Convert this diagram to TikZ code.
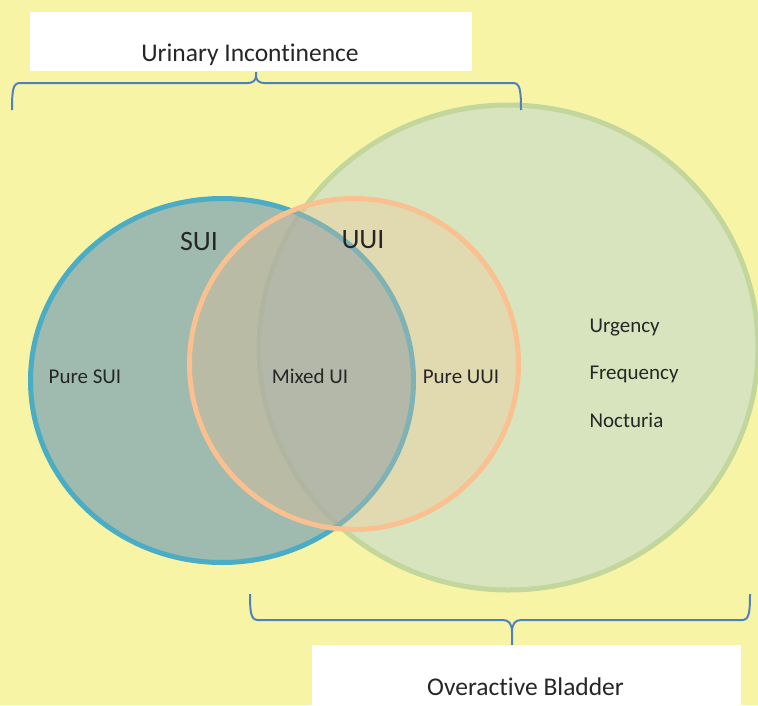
\documentclass[tikz,border=0pt]{standalone}
\usepackage{fontspec}
\setmainfont{Carlito}[Ligatures={NoCommon,NoRare,NoContextual},RawFeature={-clig}]
\usetikzlibrary{positioning,shapes.geometric}

\definecolor{bgyellow}{HTML}{F7F5A5}
\definecolor{oabfill}{HTML}{D7E4BD}
\definecolor{oabline}{HTML}{C3D69B}
\definecolor{suifill}{RGB}{123,162,179}
\definecolor{suiline}{HTML}{4BACC6}
\definecolor{uuiline}{HTML}{FAC090}
\definecolor{braceblue}{HTML}{4F81BD}
\definecolor{txtgray}{HTML}{262626}

\begin{document}
\begin{tikzpicture}[%
        x=1pt, y=-1pt,
        node distance=47.5pt,
        on grid,
        setcircle/.style={ellipse, draw, line width=5pt, inner sep=0pt},
        setbox/.style={rectangle, fill=white, inner sep=0pt},
        txt/.style={text=txtgray, font=\fontsize{21}{25}\selectfont, text height=14pt, text depth=5pt},
        setname/.style={text=txtgray, font=\fontsize{28}{33}\selectfont, text height=19pt, text depth=6pt},
        titletxt/.style={text=txtgray, font=\fontsize{25.5}{30}\selectfont, text height=17pt, text depth=6pt},
        brace/.style={draw=braceblue, line width=2pt, line join=round}
        ]

        \useasboundingbox (0,0) rectangle (758,705);
        \fill[bgyellow] (0,0) rectangle (758,705);

        % the three sets
        \node[setcircle, fill=oabfill, draw=oabline, minimum width=499pt, minimum height=485pt] (oab) at (508.5,347.5) {};
        \node[setcircle, fill=suifill, fill opacity=0.7, draw=suiline, minimum width=383pt, minimum height=364pt] (sui) at (222,380.5) {};
        \node[setcircle, fill=uuiline, fill opacity=0.3, draw=uuiline, minimum width=329pt, minimum height=331pt] (uui) at (354,364) {};

        \node[setname] (sui name) at (199,243.5) {SUI};
        \node[setname] (uui name) at (363,241.5) {UUI};

        \node[txt] (pure sui) at (85,378.5) {Pure SUI};
        \node[txt] (mixed) at (310,378.5) {Mixed UI};
        \node[txt] (pure uui) at (461,378.5) {Pure UUI};

        \node[txt, anchor=west] (urg) at (586,327.5) {Urgency};
        \node[txt, below=of urg.west, anchor=west] (freq) {Frequency};
        \node[txt, below=of freq.west, anchor=west] (noct) {Nocturia};

        % boxes and braces
        \node[setbox, minimum width=442pt, minimum height=59pt] (ui box) at (250.5,41.5) {};
        \node[titletxt] (ui) at (250,55.5) {Urinary Incont\kern0pt inence};
        \node[setbox, minimum width=429pt, minimum height=60pt] (oab box) at (526.5,675) {};
        \node[titletxt] (oab txt) at (525.5,689.5) {Overactive Bladder};

        \coordinate (ui tip) at (256,72);
        \coordinate (oab tip) at (512,645);

        \path[brace] (12,110) .. controls (12,90) and (13,83) .. (20,83) -- (248,83)
            .. controls (253,83) and (256,80) .. (256,76) -- (ui tip)
            (256,76) .. controls (256,80) and (259,83) .. (264,83) -- (513,83)
            .. controls (520,83) and (521,90) .. (521,110);
        \path[brace] (250,594) .. controls (250,613) and (251,620) .. (258,620) -- (503,620)
            .. controls (509,620) and (512,624) .. (512,632) -- (oab tip)
            (512,632) .. controls (512,624) and (515,620) .. (521,620) -- (742,620)
            .. controls (749,620) and (750,613) .. (750,594);

        \end{tikzpicture}
\end{document}
